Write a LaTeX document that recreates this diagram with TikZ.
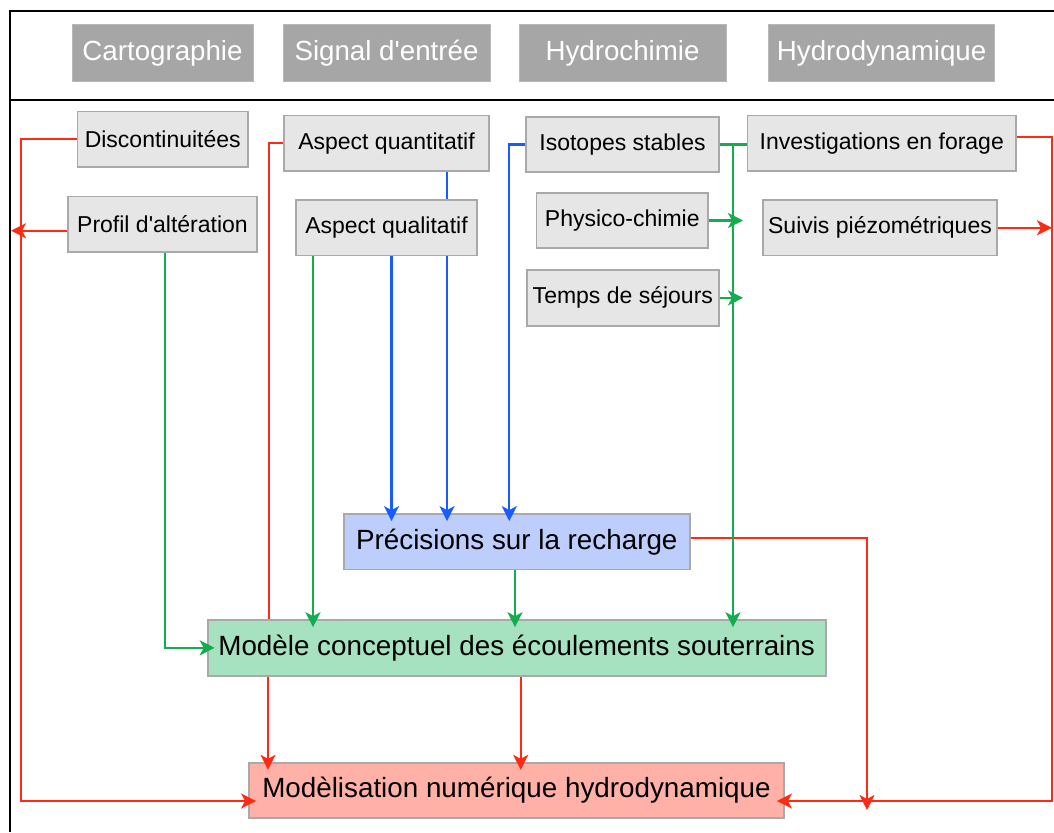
\documentclass[tikz,border=0pt]{standalone}
\usepackage{fontspec}
\setmainfont{Liberation Sans}
\usetikzlibrary{arrows.meta,calc,backgrounds}
\definecolor{hdrgray}{HTML}{A6A6A6}
\definecolor{boxgray}{HTML}{E6E6E6}
\definecolor{bordgray}{HTML}{A9A9A9}
\definecolor{precblue}{HTML}{BDCEFD}
\definecolor{modgreen}{HTML}{A6E1C0}
\definecolor{numred}{HTML}{FFB1A8}
\definecolor{cred}{HTML}{FF2A14}
\definecolor{cblue}{HTML}{1A5BFF}
\definecolor{cgreen}{HTML}{12AE4E}
\begin{document}
\begin{tikzpicture}[x=1pt,y=-1pt,
  hdr/.style={fill=hdrgray, draw=hdrgray!80!white, line width=1pt, text=white,
    font=\fontsize{27.7}{32}\selectfont, inner sep=0pt, minimum height=57pt},
  gbox/.style={fill=boxgray, draw=bordgray, line width=1.8pt,
    font=\fontsize{23}{27}\selectfont, inner sep=0pt, minimum height=55.5pt},
  bigbox/.style={draw=bordgray, line width=1.8pt,
    font=\fontsize{27.8}{32}\selectfont, inner sep=0pt, minimum height=55.5pt},
  conn/.style={line width=2.2pt},
  arr/.style={conn, -{Stealth[length=15pt,width=15pt,inset=4pt]}},
  arrin/.style={arr, shorten >=-8pt}
]
\useasboundingbox (0,0) rectangle (1054,832);

% headers
\node[hdr, minimum width=181pt]   (cart) at (162.5,53.5) {Cartographie};
\node[hdr, minimum width=207pt]   (sig)  at (386.5,53.5) {Signal d\textquotesingle entrée};
\node[hdr, minimum width=207pt]   (hch)  at (622.5,53.5) {Hydrochimie};
\node[hdr, minimum width=225.6pt] (hdy)  at (881.6,53.5) {Hydrodynamique};

% grey boxes
\node[gbox, minimum width=170.5pt] (disc)  at (162.75,139.2) {Discontinuitées};
\node[gbox, minimum width=189pt]   (prof)  at (162.5,224.2)  {Profil d\textquotesingle altération};
\node[gbox, minimum width=205pt]   (aq)    at (386.5,143.3)  {Aspect quantitatif};
\node[gbox, minimum width=181pt]   (aql)   at (386.5,227.8)  {Aspect qualitatif};
\node[gbox, minimum width=193pt]   (iso)   at (622.5,144.5)  {Isotopes stables};
\node[gbox, minimum width=171.5pt] (phys)  at (622.25,220.5) {Physico-chimie};
\node[gbox, minimum width=192.3pt] (temps) at (622.85,297.85) {Temps de séjours};
\node[gbox, minimum width=268.5pt] (inv)   at (881.75,143.3) {Investigations en forage};
\node[gbox, minimum width=234pt]   (suiv)  at (880,227.8)    {Suivis piézométriques};

% main boxes
\node[bigbox, fill=precblue, minimum width=345.6pt] (prec) at (516.8,541.75) {Précisions sur la recharge};
\node[bigbox, fill=modgreen, minimum width=618pt]   (mod)  at (516.6,647.85) {Modèle conceptuel des écoulements souterrains};
\node[bigbox, fill=numred,   minimum width=535pt]   (num)  at (516.5,790.5)  {Modèlisation numérique hydrodynamique};

\coordinate (gj) at (733,144.5);

% background layer: frame and lines passing behind boxes
\begin{pgfonlayer}{background}
  \fill[white] (0,0) rectangle (1054,832);
  \draw[line width=2.2pt] (1054,11) -- (10,11) -- (10,832);
  \draw[line width=2.2pt] (10,100) -- (1054,100);
  \draw[conn,cred] (aq.west) -| (mod.south -| 269,0);
  \draw[conn,cblue] (aq.south -| 447,0) -- (aql.north -| 447,0);
\end{pgfonlayer}

% red connectors
\draw[arrin,cred] (disc.west) -| (20.7,801) -- ([yshift=-10.5pt]num.west);
\draw[arr,cred] ([yshift=-6.5pt]prof.west) -- (11,230.7);
\draw[arrin,cred] (mod.south -| 268,0) -- (num.north -| 268,0);
\draw[arrin,cred] (mod.south -| 520.7,0) -- (num.north -| 520.7,0);
\draw[arr,cred] ([yshift=4pt]prec.east) -| (867,810);
\draw[arrin,cred] ([yshift=6pt]inv.east) -| (1051.7,801) -- ([yshift=-10.5pt]num.east);
\draw[arr,cred] (suiv.east) -- (1052,227.8);

% blue connectors
\draw[arrin,cblue] (aql.south -| 447,0) -- (prec.north -| 447,0);
\draw[arrin,cblue] (aql.south -| 391.5,0) -- (prec.north -| 391.5,0);
\draw[arrin,cblue] (iso.west) -| (prec.north -| 509.3,0);

% green connectors
\draw[arrin,cgreen] (prof.south -| 165,0) |- (mod.west);
\draw[arrin,cgreen] (aql.south -| 313,0) -- (mod.north -| 313,0);
\draw[arrin,cgreen] (prec.south -| 515,0) -- (mod.north -| 515,0);
\draw[conn,cgreen] (iso.east) -- (inv.west |- iso.east);
\draw[arrin,cgreen] (gj) -- (mod.north -| gj);
\draw[arr,cgreen] (phys.east) -- (743,220.5);
\draw[arr,cgreen] (temps.east) -- (743,297.85);
\end{tikzpicture}
\end{document}
